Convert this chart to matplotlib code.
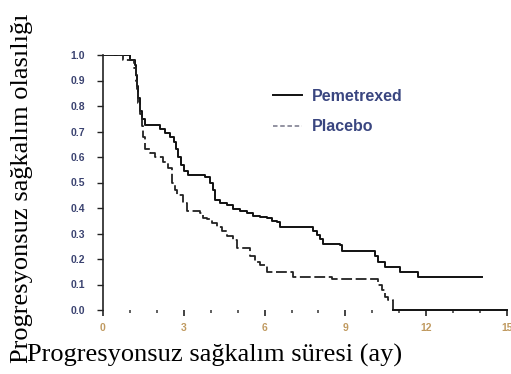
import matplotlib
matplotlib.use("Agg")
import matplotlib.pyplot as plt
import numpy as np

# Kaplan-Meier step data (time in months, survival probability after step)
pem_time = [0.0, 1.00, 1.19, 1.23, 1.26, 1.30, 1.38, 1.44, 1.56, 2.12, 2.30, 2.49, 2.64,
            2.71, 2.79, 2.90, 3.01, 3.16, 3.79, 3.98, 4.09, 4.16, 4.35, 4.61, 4.83, 5.09,
            5.35, 5.58, 5.84, 6.10, 6.28, 6.47, 6.58, 7.81, 7.96, 8.07, 8.18, 8.81, 8.88,
            10.11, 10.22, 10.48, 11.04, 11.71, 14.09]
pem_surv = [1.00, 0.98, 0.96, 0.92, 0.88, 0.83, 0.78, 0.75, 0.725, 0.71, 0.695, 0.68, 0.66,
            0.63, 0.60, 0.57, 0.545, 0.53, 0.523, 0.50, 0.47, 0.43, 0.42, 0.41, 0.395, 0.39,
            0.38, 0.37, 0.365, 0.36, 0.35, 0.345, 0.325, 0.31, 0.295, 0.28, 0.26, 0.255, 0.23,
            0.21, 0.19, 0.17, 0.15, 0.13, 0.13]

pla_time = [0.0, 0.74, 1.15, 1.23, 1.26, 1.30, 1.38, 1.45, 1.49, 1.56, 1.75, 1.93, 2.23,
            2.42, 2.57, 2.68, 2.75, 2.97, 3.12, 3.61, 3.72, 3.87, 4.05, 4.24, 4.42, 4.61,
            4.83, 4.98, 5.46, 5.65, 5.84, 6.10, 7.06, 8.51, 10.22, 10.37, 10.48, 10.59, 10.78]
pla_surv = [1.00, 0.98, 0.95, 0.90, 0.86, 0.81, 0.77, 0.72, 0.68, 0.63, 0.615, 0.60, 0.58,
            0.555, 0.50, 0.47, 0.45, 0.42, 0.39, 0.38, 0.36, 0.355, 0.34, 0.325, 0.31, 0.29,
            0.275, 0.245, 0.21, 0.19, 0.175, 0.15, 0.13, 0.12, 0.10, 0.08, 0.05, 0.04, 0.0]

series_labels = ["Pemetrexed", "Placebo"]
x_ticks = [0, 3, 6, 9, 12, 15]
y_ticks = [0.0, 0.1, 0.2, 0.3, 0.4, 0.5, 0.6, 0.7, 0.8, 0.9, 1.0]
x_label = "Progresyonsuz sağkalım süresi (ay)"
y_label = "Progresyonsuz sağkalım olasılığı"

fig = plt.figure(figsize=(5.11, 3.74), dpi=100)
ax = fig.add_axes([103 / 511, 1 - 310 / 374, (507 - 103) / 511, (310 - 55) / 374])

ax.step(pem_time, pem_surv, where="post", color="#111111", lw=1.4, label=series_labels[0])
ax.step(pla_time, pla_surv, where="post", color="#222222", lw=1.3,
        linestyle=(0, (6, 2)), label=series_labels[1])

ax.set_xlim(0, 15)
ax.set_ylim(0, 1.0)
ax.set_xticks(x_ticks)
ax.set_xticks(np.arange(0, 16, 1), minor=True)
ax.set_yticks(y_ticks)
ax.set_yticklabels([f"{v:.1f}" for v in y_ticks])

for s in ["top", "right"]:
    ax.spines[s].set_visible(False)
ax.spines["left"].set_color("#222222")
ax.spines["left"].set_linewidth(1.2)
ax.spines["bottom"].set_color("#111111")
ax.spines["bottom"].set_linewidth(1.4)
ax.spines["bottom"].set_bounds(10.78, 15)

ax.tick_params(axis="y", direction="out", length=4, width=1.0, pad=9, labelsize=7.5,
               labelcolor="#3a4270", color="#222222")
ax.tick_params(axis="x", which="major", direction="out", length=4, width=1.2, pad=5.5,
               labelsize=7.5, labelcolor="#c09a60", color="#222222")
ax.tick_params(axis="x", which="minor", direction="out", length=2, width=1.2, color="#444444")
for lab in ax.get_xticklabels() + ax.get_yticklabels():
    lab.set_fontfamily("Liberation Sans")
    lab.set_fontweight("bold")

leg = ax.legend(loc="center left", bbox_to_anchor=(0.385, 0.778), frameon=False,
                prop={"family": "Liberation Sans", "size": 11.5, "weight": "bold"},
                handlelength=1.8, labelspacing=0.95, handletextpad=0.65)
for t in leg.get_texts():
    t.set_color("#3a4680")
leg.get_lines()[1].set_linestyle((0, (2.5, 1.5)))
leg.get_lines()[1].set_color("#8a8a9a")

fig.text(27 / 511, 1 - 362 / 374, x_label, ha="left", va="baseline",
         fontsize=19, family="Liberation Serif", color="#000000")
fig.text(22 / 511, 1 - 363 / 374, y_label, ha="center", va="bottom", rotation=90,
         fontsize=19, family="Liberation Serif", color="#000000")

fig.savefig("out.png", dpi=100)
